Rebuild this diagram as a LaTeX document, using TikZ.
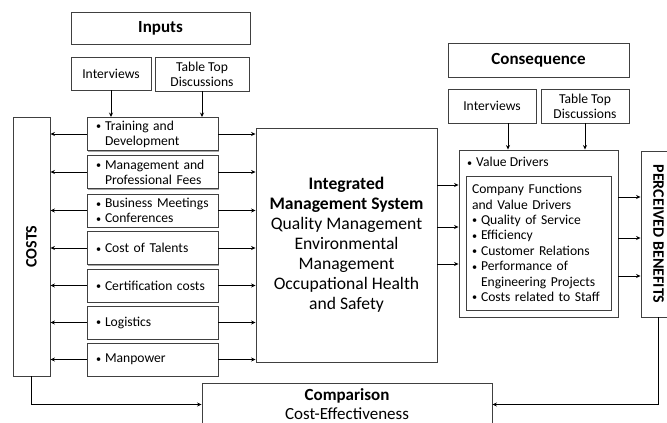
\documentclass[tikz,border=0pt]{standalone}
\usepackage{fontspec}
\setmainfont{Carlito}
\usepackage{graphicx}
\usetikzlibrary{arrows.meta,shadows}

\newcommand{\bul}{\makebox[9pt][l]{\raisebox{0.6pt}{\scalebox{0.75}{•}}}}
\newcommand{\ind}{\hspace*{9pt}}

\tikzset{
  box/.style={draw=black!75, line width=0.9pt, fill=white, inner sep=0pt,
    drop shadow={shadow xshift=1.2pt, shadow yshift=-1.2pt, fill=black!35, opacity=1}},
  item/.style={box, minimum width=131pt, minimum height=33pt, text width=113pt,
    align=left, font=\fontsize{13.6}{15}\selectfont},
  small/.style={box, align=center, font=\fontsize{13.6}{15}\selectfont},
  title/.style={box, font=\bfseries\fontsize{17}{20}\selectfont},
  arr/.style={-{Stealth[length=4.5pt,width=4pt]}, line width=0.9pt},
}

\begin{document}
\begin{tikzpicture}[x=1pt, y=-1pt]
  \path[use as bounding box] (0,0) rectangle (667,423);

  % inputs side
  \node[title, minimum width=179pt, minimum height=32pt] (inputs) at (160.5,28) {Inputs};
  \node[small, minimum width=80pt, minimum height=33pt] (int1) at (111,73.5) {Interviews};
  \node[small, minimum width=94pt, minimum height=34pt] (ttd1) at (202,74) {Table Top\\Discussions};

  \node[item] (train)  at (152.5,134)   {\bul Training and\\\ind Development};
  \node[item] (mgmt)   at (152.5,172)   {\bul Management and\\\ind Professional Fees};
  \node[item] (meet)   at (152.5,210.5) {\bul Business Meetings\\\bul Conferences};
  \node[item] (talent) at (152.5,248)   {\bul Cost of Talents};
  \node[item] (cert)   at (152.5,285.5) {\bul Certification costs};
  \node[item] (logi)   at (152.5,322.5) {\bul Logistics};
  \node[item] (manp)   at (152.5,359.5) {\bul Manpower};

  \node[box, minimum width=37pt, minimum height=259pt,
    font=\bfseries\fontsize{16}{18}\selectfont] (costs) at (31.5,246.5) {\rotatebox{90}{COSTS}};

  % the system in the middle
  \node[box, minimum width=181pt, minimum height=234pt, align=center,
    font=\fontsize{17.6}{20}\selectfont] (ims) at (346.5,245)
    {\textbf{Integrated}\\\textbf{Management System}\\Quality Management\\Environmental\\Management\\Occupational Health\\and Safety};

  % consequence side
  \node[title, minimum width=181pt, minimum height=34pt] (conseq) at (538.5,60) {Consequence};
  \node[small, minimum width=88pt, minimum height=34pt] (int2) at (492,106) {Interviews};
  \node[small, minimum width=88pt, minimum height=34pt] (ttd2) at (585,106) {Table Top\\Discussions};

  \node[box, minimum width=159pt, minimum height=167pt] (value) at (538.5,233.5) {};
  \node[anchor=west, inner sep=0pt, font=\fontsize{13.6}{15}\selectfont] (vdtitle) at (467,162) {\bul Value Drivers};
  \node[box, minimum width=145pt, minimum height=134pt, text width=133pt, align=left,
    font=\fontsize{13.6}{15.4}\selectfont] (funcs) at (538.5,243)
    {Company Functions\\and Value Drivers\\\bul Quality of Service\\\bul Efficiency\\\bul Customer Relations\\\bul Performance of\\\ind Engineering Projects\\\bul Costs related to Staff};

  \node[box, minimum width=35pt, minimum height=166pt,
    font=\bfseries\fontsize{16}{18}\selectfont] (benefit) at (658.5,234) {\rotatebox{-90}{PERCEIVED BENEFITS}};

  \node[box, minimum width=290pt, minimum height=42pt, align=center,
    font=\fontsize{17}{19}\selectfont] (compare) at (347,404.5) {\textbf{Comparison}\\Cost-Effectiveness};

  % connectors
  \draw[arr] (int1.south) -- (int1.south |- train.north);
  \draw[arr] (ttd1.south) -- (ttd1.south |- train.north);
  \draw[arr] ([xshift=16pt]int2.south) -- ([xshift=16pt]int2.south |- value.north);
  \draw[arr] (ttd2.south) -- (ttd2.south |- value.north);

  \foreach \n in {train,mgmt,meet,talent,cert,logi,manp} {
    \draw[arr] (\n.west) -- (\n.west -| costs.east);
    \draw[arr] (\n.east) -- (\n.east -| ims.west);
  }

  \foreach \dy in {60,18,-19}
    \draw[arr] ([yshift=\dy pt]ims.east) -- ([yshift=\dy pt]ims.east -| value.west);
  \foreach \dy in {36.5,-4.5,-42.5}
    \draw[arr] ([yshift=\dy pt]value.east) -- ([yshift=\dy pt]value.east -| benefit.west);

  \draw[arr] (costs.south) |- (compare.west);
  \draw[arr] (benefit.south) |- (compare.east);
\end{tikzpicture}
\end{document}
